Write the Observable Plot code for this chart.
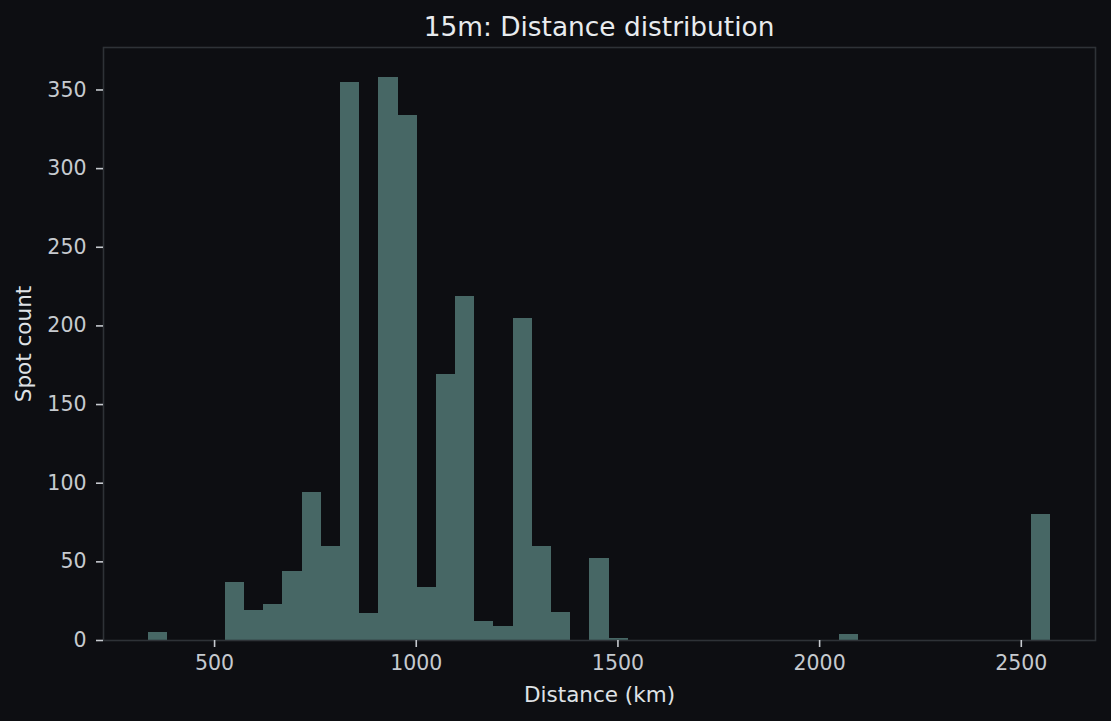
<!DOCTYPE html>
<html><head><meta charset="utf-8">
<script src="https://cdn.jsdelivr.net/npm/d3@7"></script>
<script src="https://cdn.jsdelivr.net/npm/@observablehq/plot@0.6"></script>
<style>
html,body{margin:0;padding:0;background:#0d0e12;}
#wrap{width:1111px;height:721px;overflow:hidden;background:#0d0e12;}
#title{height:45px;width:992px;margin-left:103px;text-align:center;font-family:"DejaVu Sans";font-size:26.4px;line-height:54px;color:#e8ebee;white-space:nowrap;}
#chart svg{display:block;}
</style></head><body>
<div id="wrap"><div id="title"></div><div id="chart"></div></div>
<script>
const titleText = "15m: Distance distribution";
const xLabel = "Distance (km)";
const yLabel = "Spot count";
const binStart = 336.4;   // left edge of first bin (km)
const binWidth = 47.57;   // bin width (km)
const counts = [5, 0, 0, 0, 37, 19, 23, 44, 94, 60,
                355, 17, 358, 334, 34, 169, 219, 12, 9, 205,
                60, 18, 0, 52, 1, 0, 0, 0, 0, 0,
                0, 0, 0, 0, 0, 0, 4, 0, 0, 0,
                0, 0, 0, 0, 0, 0, 80];
const xTicks = [500, 1000, 1500, 2000, 2500];
const yTicks = [0, 50, 100, 150, 200, 250, 300, 350];
const yLimit = 377;

document.getElementById("title").textContent = titleText;

const bins = counts.map((c, i) => ({x1: binStart + i * binWidth, x2: binStart + (i + 1) * binWidth, count: c}));
const lo = binStart, hi = binStart + counts.length * binWidth, pad = (hi - lo) * 0.05;

const tickColor = "#c6cacf";
const labelColor = "#dfe2e6";

const plot = Plot.plot({
  width: 1111, height: 676,
  marginTop: 2, marginBottom: 81, marginLeft: 103, marginRight: 16,
  style: {background: "#0d0e12", fontFamily: "DejaVu Sans", fontSize: "20.5px", color: tickColor},
  x: {domain: [lo - pad, hi + pad]},
  y: {domain: [0, yLimit]},
  marks: [
    Plot.rectY(bins, {x1: "x1", x2: "x2", y: "count", fill: "#476765", shapeRendering: "crispEdges"}),
    Plot.frame({stroke: "#2e3237", strokeWidth: 1.6}),
    Plot.axisX({ticks: xTicks, tickFormat: d3.format("d"), tickSize: 7, tickPadding: 8, stroke: tickColor, fill: tickColor, strokeWidth: 1.6, label: null, fontSize: 20.5}),
    Plot.axisX({ticks: [], label: xLabel, labelAnchor: "center", labelArrow: "none", labelOffset: 61, fill: labelColor, fontSize: 21.5}),
    Plot.axisY({ticks: yTicks, tickFormat: d3.format("d"), tickSize: 7, tickPadding: 10, stroke: tickColor, fill: tickColor, strokeWidth: 1.6, label: null, fontSize: 20.5}),
    Plot.axisY({ticks: [], label: yLabel, labelAnchor: "center", labelArrow: "none", labelOffset: 88, fill: labelColor, fontSize: 21.5})
  ]
});
document.getElementById("chart").appendChild(plot);
</script>
</body></html>
